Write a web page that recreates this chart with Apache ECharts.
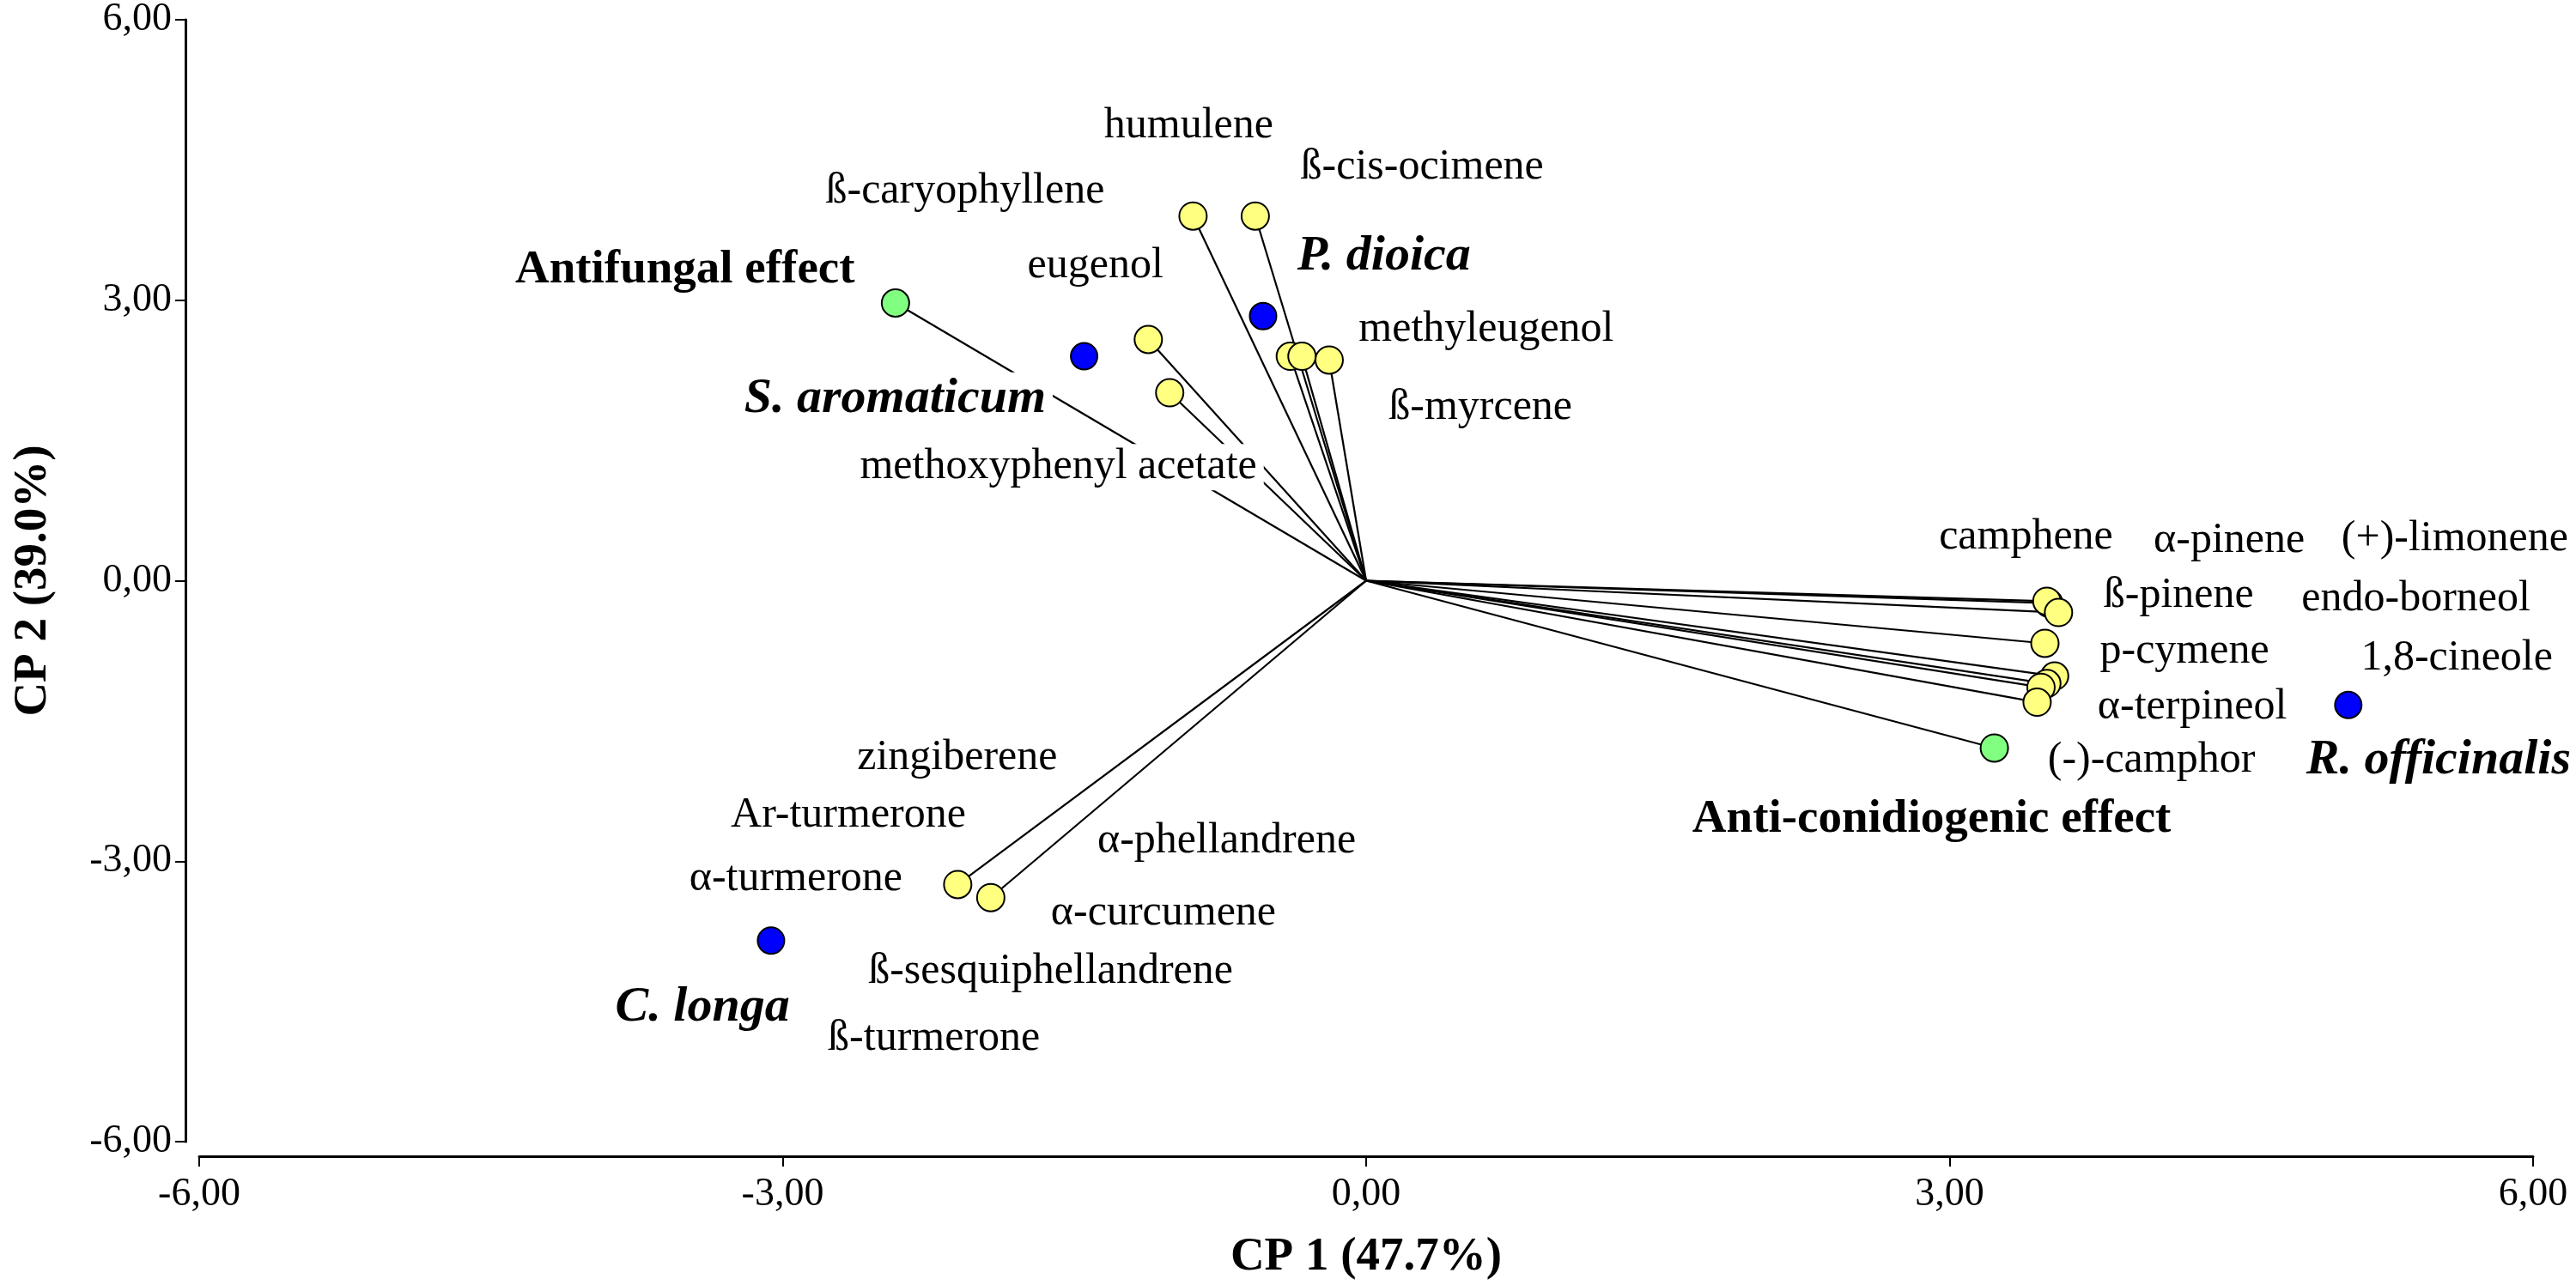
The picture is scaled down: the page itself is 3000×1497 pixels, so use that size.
<!DOCTYPE html>
<html><head><meta charset="utf-8">
<script src="https://cdn.jsdelivr.net/npm/echarts@6/dist/echarts.min.js"></script>
<style>html,body{margin:0;padding:0;background:#fff}#c{width:3000px;height:1497px}</style>
</head><body><div id="c"></div><script>
// Compound loadings (yellow points, each joined to the origin)
const compoundX = [-0.89, -0.57, -1.12, -1.01, -0.39, -0.33, -0.19, 3.51, 3.50, 3.56, 3.49, 3.54, 3.50, 3.47, 3.45, -2.10, -1.93];
const compoundY = [3.90, 3.90, 2.58, 2.01, 2.40, 2.40, 2.36, -0.24, -0.22, -0.34, -0.67, -1.02, -1.10, -1.14, -1.30, -3.25, -3.39];
// Effect loadings (green points, joined to the origin)
const effectX = [-2.42, 3.23];
const effectY = [2.97, -1.79];
// Species scores (blue points)
const speciesX = [-1.45, -0.53, 5.05, -3.06];
const speciesY = [2.40, 2.83, -1.33, -3.85];
// Text labels
const labelTexts = ['humulene','ß-cis-ocimene','ß-caryophyllene','Antifungal effect','eugenol','P. dioica','methyleugenol','S. aromaticum','ß-myrcene','methoxyphenyl acetate','camphene','α-pinene','(+)-limonene','ß-pinene','endo-borneol','p-cymene','1,8-cineole','α-terpineol','(-)-camphor','R. officinalis','Anti-conidiogenic effect','zingiberene','Ar-turmerone','α-turmerone','α-phellandrene','α-curcumene','ß-sesquiphellandrene','C. longa','ß-turmerone'];
const labelX = [-0.91, 0.29, -2.06, -3.50, -1.39, 0.094, 0.62, -2.42, 0.59, -1.58, 3.395, 4.44, 5.60, 4.18, 5.40, 4.21, 5.61, 4.25, 4.04, 4.80, 2.91, -2.10, -2.66, -2.93, -0.715, -1.04, -1.62, -3.41, -2.22];
const labelY = [4.86, 4.42, 4.16, 3.32, 3.36, 3.46, 2.68, 1.94, 1.85, 1.21, 0.46, 0.42, 0.44, -0.16, -0.20, -0.76, -0.83, -1.36, -1.93, -1.93, -2.56, -1.90, -2.51, -3.19, -2.79, -3.56, -4.19, -4.57, -4.90];
const labelKind = ['c','c','c','e','c','s','c','s','c','c','c','c','c','c','c','c','c','c','c','s','e','c','c','c','c','c','c','s','c'];
const tickLabels = {'-6': '-6,00', '-3': '-3,00', '0': '0,00', '3': '3,00', '6': '6,00'};

const FONT = '"Liberation Serif", "Times New Roman", serif';
const chart = echarts.init(document.getElementById('c'), null, {renderer: 'canvas'});

const vectors = [];
compoundX.forEach((x, i) => vectors.push({coords: [[0, 0], [x, compoundY[i]]]}));
effectX.forEach((x, i) => vectors.push({coords: [[0, 0], [x, effectY[i]]]}));

const labelData = labelTexts.map((t, i) => {
  const k = labelKind[i];
  const lab = {
    show: true,
    position: [0, 0],
    align: t === 'R. officinalis' ? 'left' : 'center',
    verticalAlign: 'middle',
    formatter: '{b}',
    fontFamily: FONT,
    fontSize: k === 'c' ? 50 : (k === 'e' ? 55 : 58),
    fontWeight: k === 'c' ? 'normal' : 'bold',
    fontStyle: k === 's' ? 'italic' : 'normal',
    color: '#000',
    opacity: 1,
    textBorderWidth: 0,
    backgroundColor: '#fff',
    padding: [2, 8]
  };
  return {name: t, value: [labelX[i], labelY[i]], label: lab};
});

const axisCommon = {
  type: 'value', min: -6, max: 6, interval: 3,
  splitLine: {show: false},
  axisLine: {show: true, onZero: false, lineStyle: {color: '#000', width: 3}},
  axisTick: {show: true, length: 12, lineStyle: {color: '#000', width: 2}},
  axisLabel: {formatter: v => tickLabels[String(v)], fontFamily: FONT, fontSize: 46, color: '#000', showMinLabel: true, showMaxLabel: true},
  nameLocation: 'middle',
  nameTextStyle: {fontFamily: FONT, fontSize: 55, fontWeight: 'bold', color: '#000'}
};

chart.setOption({
  animation: false,
  backgroundColor: '#fff',
  grid: {left: 232, right: 50, top: 19, bottom: 163, containLabel: false},
  xAxis: Object.assign({}, axisCommon, {
    position: 'bottom', offset: 17, name: 'CP 1 (47.7%)', nameGap: 90,
    axisLabel: Object.assign({}, axisCommon.axisLabel, {margin: 22})
  }),
  yAxis: Object.assign({}, axisCommon, {
    position: 'left', offset: 16, name: 'CP 2 (39.0%)', nameGap: 150,
    axisLabel: Object.assign({}, axisCommon.axisLabel, {margin: 16})
  }),
  series: [
    {type: 'lines', coordinateSystem: 'cartesian2d', polyline: false, silent: true, z: 1,
     lineStyle: {color: '#000', width: 2.2, opacity: 1}, data: vectors},
    {type: 'scatter', silent: true, z: 2, symbolSize: 1, itemStyle: {color: 'rgba(0,0,0,0)'},
     labelLayout: {hideOverlap: false},
     data: labelData},
    {type: 'scatter', silent: true, z: 3, symbolSize: 32,
     itemStyle: {color: '#FFFF80', borderColor: '#000', borderWidth: 2, opacity: 1},
     data: compoundX.map((x, i) => [x, compoundY[i]])},
    {type: 'scatter', silent: true, z: 3, symbolSize: 32,
     itemStyle: {color: '#80FF80', borderColor: '#000', borderWidth: 2, opacity: 1},
     data: effectX.map((x, i) => [x, effectY[i]])},
    {type: 'scatter', silent: true, z: 3, symbolSize: 31,
     itemStyle: {color: '#0000FF', borderColor: '#000', borderWidth: 2, opacity: 1},
     data: speciesX.map((x, i) => [x, speciesY[i]])}
  ]
});
</script></body></html>
